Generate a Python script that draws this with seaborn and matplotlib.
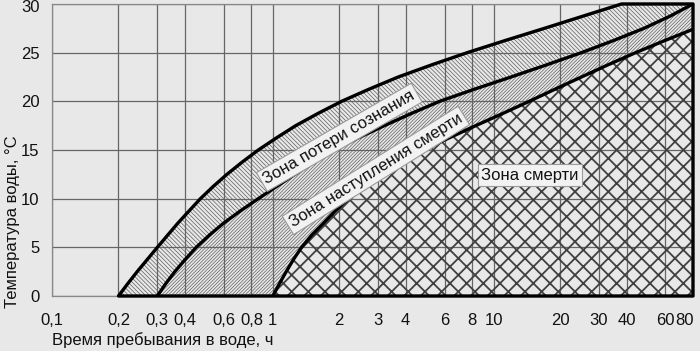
import matplotlib
matplotlib.use("Agg")
import matplotlib.pyplot as plt
import matplotlib.transforms as mtransforms
import seaborn as sns

# x axis (time in water, hours) - log scale
x_ticks = [0.1, 0.2, 0.3, 0.4, 0.6, 0.8, 1, 2, 3, 4, 6, 8, 10, 20, 30, 40, 60, 80]
x_tick_labels = ["0,1", "0,2", "0,3", "0,4", "0,6", "0,8", "1", "2", "3", "4",
                 "6", "8", "10", "20", "30", "40", "60", "80"]
y_ticks = [0, 5, 10, 15, 20, 25, 30]
x_min, x_max = 0.1, 80

# boundary curves: time (h) at water temperature (C)
unconscious_time = [0.2, 0.22, 0.243, 0.27, 0.30, 0.334, 0.372, 0.418, 0.47, 0.537, 0.62,
                    0.726, 0.86, 1.04, 1.27, 1.60, 2.05, 2.73, 3.7, 5.25, 7.6, 11.3, 17,
                    25.4, 38, 80]
unconscious_temp = [0, 1.25, 2.5, 3.75, 5, 6.25, 7.5, 8.75, 10, 11.25, 12.5, 13.75, 15,
                    16.25, 17.5, 18.75, 20, 21.25, 22.5, 23.75, 25, 26.25, 27.5, 28.75, 30, 30]

dying_time = [0.3, 0.327, 0.36, 0.401, 0.45, 0.516, 0.60, 0.714, 0.86, 1.04, 1.26, 1.54,
              1.9, 2.44, 3.2, 4.24, 5.7, 8.2, 12, 17.4, 25, 35, 48, 63, 80]
dying_temp = [0, 1.25, 2.5, 3.75, 5, 6.25, 7.5, 8.75, 10, 11.25, 12.5, 13.75, 15, 16.25,
              17.5, 18.75, 20, 21.25, 22.5, 23.75, 25, 26.25, 27.5, 28.75, 30]

death_time = [1.0, 1.07, 1.15, 1.24, 1.35, 1.5, 1.7, 1.92, 2.2, 2.57, 3.1, 3.8, 4.8, 6.3,
              8.3, 11, 14.5, 19, 25, 33, 44, 59, 80]
death_temp = [0, 1.25, 2.5, 3.75, 5, 6.25, 7.5, 8.75, 10, 11.25, 12.5, 13.75, 15, 16.25,
              17.5, 18.75, 20, 21.25, 22.5, 23.75, 25, 26.2, 27.4]

zone_labels = ["Зона потери сознания", "Зона наступления смерти", "Зона смерти"]
label_pos = [(2.0, 16.3), (2.93, 12.9), (14.6, 12.4)]
label_rot = [30, 32, 0]

bg = "#e8e8e8"
sns.set_style("white", {"axes.facecolor": bg, "figure.facecolor": bg})
plt.rcParams["font.family"] = ["Liberation Sans", "DejaVu Sans"]

fig = plt.figure(figsize=(7, 3.51), dpi=100)
ax = fig.add_axes([0.0743, 0.1567, 0.9157, 0.832])
ax.set_xscale("log")
ax.set_xlim(x_min, x_max)
ax.set_ylim(0, 30)

ax.set_xticks(x_ticks)
ax.set_xticklabels(x_tick_labels)
ax.xaxis.set_minor_locator(matplotlib.ticker.NullLocator())
ax.set_yticks(y_ticks)
ax.grid(True, color="#666666", linewidth=0.9, zorder=0)
ax.set_axisbelow(True)
ax.tick_params(axis="x", length=0, pad=12, labelsize=12, colors="#111111")
ax.tick_params(axis="y", length=0, pad=9, labelsize=12, colors="#111111")
for side in ["left", "top", "bottom"]:
    ax.spines[side].set_color("#888888")
    ax.spines[side].set_linewidth(0.9)
ax.spines["right"].set_visible(False)

# keep the edge labels inside the picture
last = ax.get_xticklabels()[-1]
last.set_transform(last.get_transform() + mtransforms.ScaledTranslation(-8 / 100, 0, fig.dpi_scale_trans))
top = ax.get_yticklabels()[-1]
top.set_transform(top.get_transform() + mtransforms.ScaledTranslation(0, -2 / 100, fig.dpi_scale_trans))


def zone(xs, ys, hatch, color, hw):
    plt.rcParams["hatch.linewidth"] = hw
    p = ax.fill(xs, ys, facecolor="none", edgecolor=color, linewidth=0, hatch=hatch, zorder=1)[0]
    try:
        p.set_hatch_linewidth(hw)
    except AttributeError:
        pass
    return p


# zone between loss of consciousness and onset of death
zone(unconscious_time + dying_time[::-1], unconscious_temp + dying_temp[::-1],
     "\\" * 8, "#606060", 0.5)
# zone of onset of death
zone(dying_time + death_time[::-1], dying_temp + death_temp[::-1],
     "/" * 10, "#606060", 0.5)
# death zone
zone(death_time + [x_max], death_temp + [0], "xx", "#404040", 1.3)

# outline: outer curve, right edge, bottom
ax.fill(unconscious_time + [x_max], unconscious_temp + [0], facecolor="none",
        edgecolor="black", linewidth=2.4, zorder=3, clip_on=False, joinstyle="round")
for xs, ys in [(dying_time, dying_temp), (death_time, death_temp)]:
    sns.lineplot(x=xs, y=ys, sort=False, estimator=None, color="black",
                 linewidth=2.4, ax=ax, zorder=3, solid_joinstyle="round")

for text, (lx, ly), rot in zip(zone_labels, label_pos, label_rot):
    ax.text(lx, ly, text, rotation=rot, rotation_mode="anchor", ha="center", va="center",
            fontsize=12, color="#111111", zorder=5,
            bbox=dict(boxstyle="square,pad=0.2", facecolor="#f2f2f2", edgecolor="#9a9a9a",
                      linewidth=0.8))

ax.set_xlabel("Время пребывания в воде, ч", loc="left", fontsize=12, color="#111111")
ax.xaxis.set_label_coords(0.0, -0.125)
ax.xaxis.label.set_ha("left")
ax.set_ylabel("Температура воды, °С", loc="bottom", fontsize=12, color="#111111")
ax.yaxis.set_label_coords(-0.062, -0.04)
ax.yaxis.label.set_va("center")
ax.yaxis.label.set_ha("left")

fig.savefig("out.png", dpi=100, facecolor=bg)
